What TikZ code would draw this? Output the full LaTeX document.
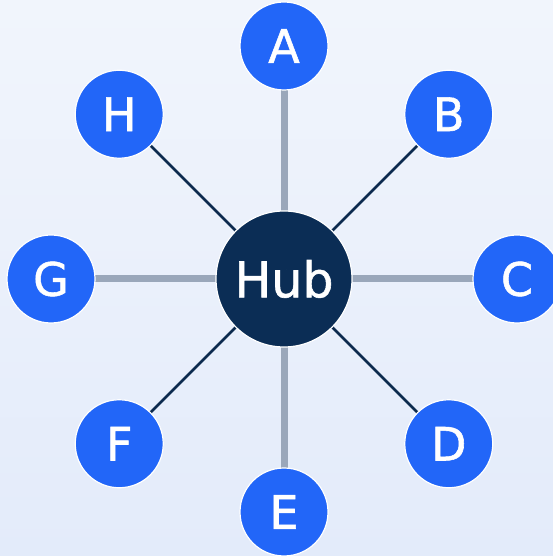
\documentclass[tikz,border=0pt]{standalone}
\usepackage{fontspec}
\setmainfont{DejaVu Sans}
\newfontfamily\labelfont[FakeBold=1.2]{DejaVu Sans}
\usetikzlibrary{calc}
\pgfdeclarelayer{bglayer}
\pgfdeclarelayer{edgelayer}
\pgfsetlayers{bglayer,edgelayer,main}
\definecolor{bgtop}{HTML}{F1F5FC}
\definecolor{bgbot}{HTML}{E3EBFA}
\definecolor{sat}{HTML}{2266F8}
\definecolor{hubc}{HTML}{0B2D55}
\definecolor{spoke}{HTML}{9AA7BA}
\definecolor{diag}{HTML}{0C2A4E}
\begin{document}
\begin{tikzpicture}[x=1pt,y=1pt,
  satnode/.style={circle,fill=sat,draw=white,line width=1.2pt,minimum size=88pt,inner sep=0pt,text=white,font=\labelfont\fontsize{46}{46}\selectfont},
  hubnode/.style={circle,fill=hubc,draw=white,line width=1.2pt,minimum size=136pt,inner sep=0pt,text=white,font=\labelfont\fontsize{49}{49}\selectfont},
  straight/.style={draw=spoke,line width=7pt},
  slanted/.style={draw=diag,line width=2.8pt}]
\useasboundingbox (0,0) rectangle (553,556);
\begin{pgfonlayer}{bglayer}
\shade[top color=bgtop,bottom color=bgbot] (0,0) rectangle (553,556);
\end{pgfonlayer}
\coordinate (ctr) at (284,277);
\node[hubnode] (hub) at (ctr) {Hub};
\node[satnode] (A) at ($(ctr)+(90:233)$) {A};
\node[satnode] (B) at ($(ctr)+(45:233)$) {B};
\node[satnode] (C) at ($(ctr)+(0:233)$) {C};
\node[satnode] (D) at ($(ctr)+(-45:233)$) {D};
\node[satnode] (E) at ($(ctr)+(-90:233)$) {E};
\node[satnode] (F) at ($(ctr)+(-135:233)$) {F};
\node[satnode] (G) at ($(ctr)+(180:233)$) {G};
\node[satnode] (H) at ($(ctr)+(135:233)$) {H};
\begin{pgfonlayer}{edgelayer}
\draw[straight] (hub.center) -- (A.center);
\draw[straight] (hub.center) -- (C.center);
\draw[straight] (hub.center) -- (E.center);
\draw[straight] (hub.center) -- (G.center);
\draw[slanted] (hub.center) -- (B.center);
\draw[slanted] (hub.center) -- (D.center);
\draw[slanted] (hub.center) -- (F.center);
\draw[slanted] (hub.center) -- (H.center);
\end{pgfonlayer}
\end{tikzpicture}
\end{document}
